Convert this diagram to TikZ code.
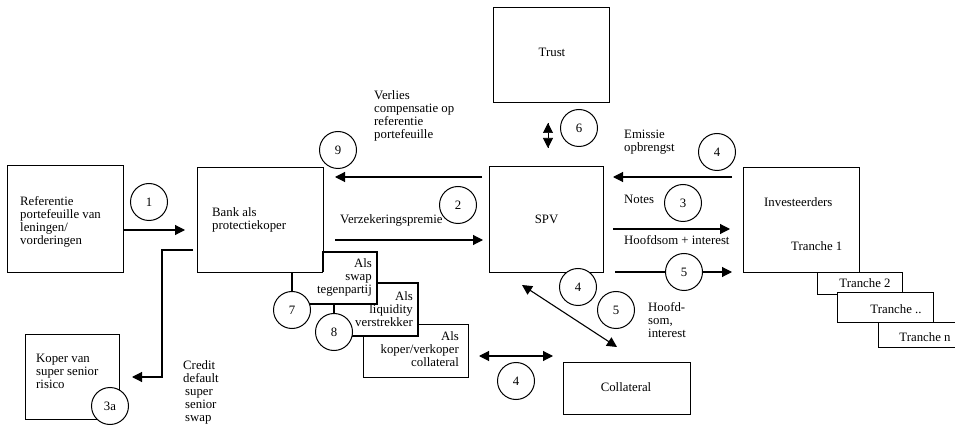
\documentclass[tikz,border=0pt]{standalone}
\usepackage{fontspec}
\setmainfont{Liberation Serif}
\usetikzlibrary{arrows.meta}
\begin{document}
\begin{tikzpicture}[x=1pt,y=-1pt,
  every node/.style={font=\fontsize{12.8}{13.2}\selectfont},
  box/.style={draw, line width=1.1pt, fill=white, inner sep=0, anchor=north west},
  num/.style={draw, circle, line width=1pt, fill=white, minimum size=37pt, inner sep=0},
  lbl/.style={inner sep=0, anchor=north west, align=left},
  rlbl/.style={inner sep=0, anchor=north east, align=right},
  arr/.style={line width=1.1pt, -{Triangle[length=10pt,width=10pt]}},
  darr/.style={line width=1.1pt, {Triangle[length=10pt,width=10pt]}-{Triangle[length=10pt,width=10pt]}},
  link/.style={line width=1.1pt}
]
\useasboundingbox (0,0) rectangle (955,427);

% main parties
\node[box, minimum width=116pt, minimum height=107pt] (ref) at (7,165) {};
\node[box, minimum width=126pt, minimum height=105pt] (bank) at (197,167) {};
\node[box, minimum width=94pt, minimum height=85pt] (koper) at (25,334) {};
\node[box, minimum width=114pt, minimum height=106pt] (spv) at (489,166) {};
\node[box, minimum width=116pt, minimum height=95pt] (trust) at (493,7) {};
\node[box, minimum width=127pt, minimum height=52pt] (coll) at (563,362) {};

% investors and tranches
\node[box, minimum width=116pt, minimum height=105pt] (inv) at (743,167) {};
\node[box, minimum width=85pt, minimum height=22pt] (t2) at (817,272) {};
\node[box, minimum width=96pt, minimum height=30pt] (tdots) at (837,292) {};
\node[box, minimum width=90pt, minimum height=25pt] (tn) at (878,322) {};

% roles of the bank, stacked
\node[box, minimum width=105pt, minimum height=53pt] (ck) at (363,324) {};
\coordinate (c8) at (334,332);
\coordinate (c7) at (292,310);
\fill[white] (353,283) rectangle (418,336);
\draw[link] (c8 |- 0,336) -- (418,336) -- (418,283) -- (377,283);
\fill[white] (323,252) rectangle (377,304);
\draw[link] (c7 |- 0,304) -- (377,304) -- (377,252) -- (323,252) -- (323,272);
\draw[link] (c7) -- (c7 |- bank.south);
\draw[link] (c8 |- 0,304) -- (c8);

% texts of the boxes
\node[lbl] at (20,196) {Referentie\\portefeuille van\\leningen/\\vorderingen};
\node[lbl] at (212,207) {Bank als\\protectiekoper};
\node[lbl] at (36,354) {Koper van\\super senior\\risico};
\node at (spv.center) {SPV};
\node at (552,52) {Trust};
\node at (626,387) {Collateral};
\node[lbl] at (764,197) {Investeerders};
\node[lbl] at (791,241) {Tranche 1};
\node at (865,283) {Tranche 2};
\node at (896,309) {Tranche ..};
\node at (925,337) {Tranche n};
\node[rlbl] at (372,258) {Als\\swap\\tegenpartij};
\node[rlbl] at (413,291) {Als\\liquidity\\verstrekker};
\node[rlbl] at (459,331) {Als\\koper/verkoper\\collateral};

% flow labels
\node[lbl] at (183,360) {Credit\\default\\\hspace{2pt}super\\\hspace{2pt}senior\\\hspace{2pt}swap};
\node[lbl] at (340,214) {Verzekeringspremie};
\node[lbl] at (374,90) {Verlies\\compensatie op\\referentie\\portefeuille};
\node[lbl] at (624,130) {Emissie\\opbrengst};
\node[lbl] at (624,195) {Notes};
\node[lbl] at (624,235) {Hoofdsom + interest};
\node[lbl] at (648,302) {Hoofd-\\som,\\interest};

% flows
\coordinate (a1) at (185,230);
\draw[arr] (ref.east |- a1) -- (a1);
\coordinate (s2a) at (193,250);
\coordinate (s2b) at (132,377);
\draw[arr] (s2a) -| (162,377) -- (s2b);
\coordinate (a9) at (335,177);
\draw[arr] (482,177) -- (a9);
\coordinate (a2) at (483,240);
\draw[arr] (335,240) -- (a2);
\coordinate (t6a) at (548,123);
\coordinate (t6b) at (548,148);
\draw[line width=0.7pt, dotted] (t6a) -- (t6b);
\draw[line width=0.7pt, {Triangle[length=10pt,width=10pt]}-{Triangle[length=10pt,width=10pt]}] (t6a) -- (t6b);
\coordinate (a4) at (613,177);
\draw[arr] (732,177) -- (a4);
\coordinate (a3) at (730,229);
\draw[arr] (613,229) -- (a3);
\coordinate (a5) at (732,272);
\draw[arr] (615,272) -- (a5);
\coordinate (d1) at (522,285);
\coordinate (d2) at (617,347);
\draw[darr] (d1) -- (d2);
\coordinate (h1) at (479,356);
\coordinate (h2) at (553,356);
\draw[darr] (h1) -- (h2);

% step numbers
\node[num] (n1) at (149,202) {1};
\node[num] (n9) at (338,150) {9};
\node[num] (n2) at (458,205) {2};
\node[num] (n6) at (579,128) {6};
\node[num] (n4a) at (717,152) {4};
\node[num] (n3) at (683,203) {3};
\node[num] (n5a) at (684,272) {5};
\node[num] (n4b) at (578,287) {4};
\node[num] (n5b) at (616,310) {5};
\node[num] (n4c) at (516,381) {4};
\node[num] (n7) at (c7) {7};
\node[num] (n8) at (c8) {8};
\node[num] (n3a) at (110,406) {3a};
\end{tikzpicture}
\end{document}
